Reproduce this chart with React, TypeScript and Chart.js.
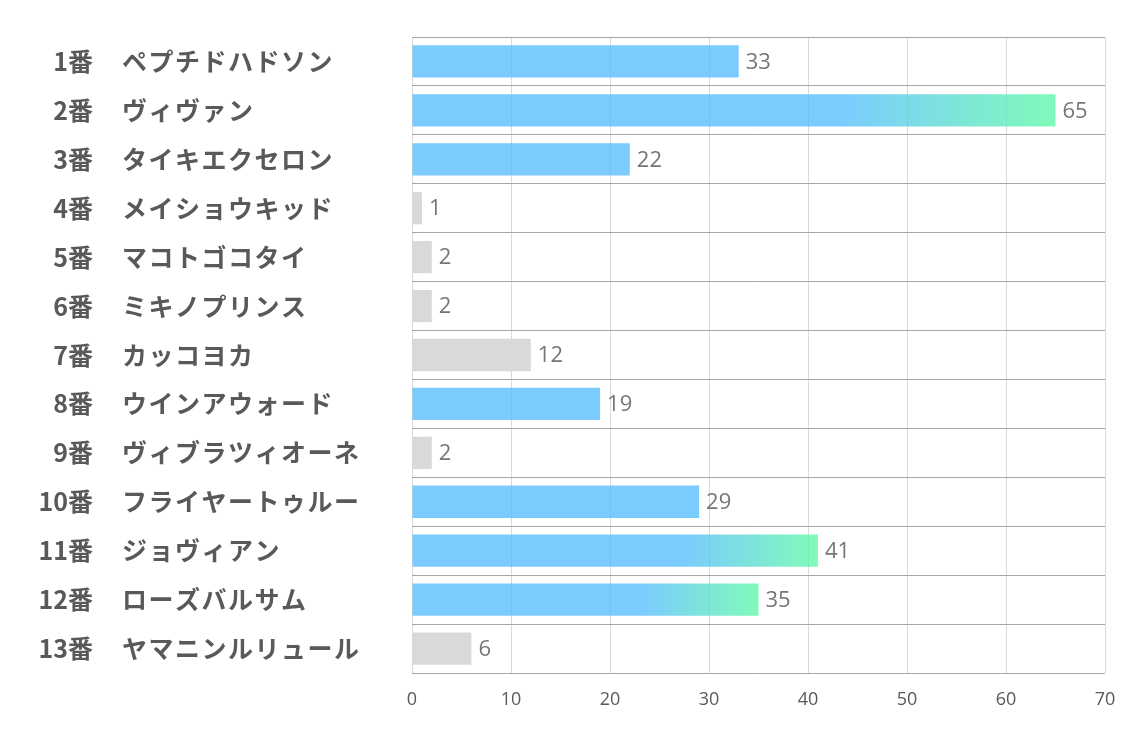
import React, { useEffect, useRef } from "react";
import { Chart, registerables } from "chart.js";

Chart.register(...registerables);

const numbers = ["1番", "2番", "3番", "4番", "5番", "6番", "7番", "8番", "9番", "10番", "11番", "12番", "13番"];
const horses = [
  "ペプチドハドソン",
  "ヴィヴァン",
  "タイキエクセロン",
  "メイショウキッド",
  "マコトゴコタイ",
  "ミキノプリンス",
  "カッコヨカ",
  "ウインアウォード",
  "ヴィブラツィオーネ",
  "フライヤートゥルー",
  "ジョヴィアン",
  "ローズバルサム",
  "ヤマニンルリュール",
];
const values = [33, 65, 22, 1, 2, 2, 12, 19, 2, 29, 41, 35, 6];
// "g" = gradient (top picks), "b" = blue, "n" = grey
const kinds = ["b", "g", "b", "n", "n", "n", "n", "b", "n", "b", "g", "g", "n"];
const xTicks = [0, 10, 20, 30, 40, 50, 60, 70];

const BLUE = "rgba(90,190,255,0.8)";
const GREEN = "rgba(96,249,169,0.8)";
const GREY = "rgba(217,217,217,1)";

const labelPlugin = {
  id: "sideLabels",
  afterDraw(chart: any) {
    const ctx = chart.ctx;
    const yScale = chart.scales.y;
    const meta = chart.getDatasetMeta(0);
    ctx.save();
    ctx.fillStyle = "#595959";
    ctx.textBaseline = "middle";
    ctx.font = "bold 25px 'Noto Sans CJK JP'";
    numbers.forEach((n, i) => {
      const y = yScale.getPixelForValue(i);
      ctx.letterSpacing = "0px";
      ctx.textAlign = "right";
      ctx.fillText(n, 93, y);
      ctx.textAlign = "left";
      ctx.letterSpacing = "1.5px";
      ctx.fillText(horses[i], 122, y);
    });
    ctx.letterSpacing = "0px";
    ctx.font = "22px 'Open Sans'";
    ctx.fillStyle = "#767676";
    ctx.textAlign = "left";
    meta.data.forEach((bar: any, i: number) => {
      ctx.fillText(String(values[i]), bar.x + 7, bar.y + 1);
    });
    ctx.restore();
  },
};

export default function App() {
  const ref = useRef<HTMLCanvasElement>(null);
  useEffect(() => {
    const canvas = ref.current!;
    const chart = new Chart(canvas, {
      type: "bar",
      data: {
        labels: horses,
        datasets: [
          {
            data: values,
            backgroundColor: (c: any) => {
              const i = c.dataIndex;
              const k = kinds[i];
              if (k === "n") return GREY;
              if (k === "b") return BLUE;
              const ch = c.chart;
              const area = ch.chartArea;
              if (!area) return BLUE;
              const xs = ch.scales.x;
              const x0 = xs.getPixelForValue(0);
              const x1 = xs.getPixelForValue(values[i]);
              const g = ch.ctx.createLinearGradient(x0, 0, x1, 0);
              g.addColorStop(0, BLUE);
              g.addColorStop(0.66, BLUE);
              g.addColorStop(1, GREEN);
              return g;
            },
            borderWidth: 0,
            barPercentage: 0.66,
            categoryPercentage: 1,
          },
        ],
      },
      options: {
        indexAxis: "y",
        responsive: false,
        animation: false,
        layout: { padding: { top: 37, right: 29, bottom: 0, left: 0 } },
        plugins: { legend: { display: false }, tooltip: { enabled: false } },
        scales: {
          x: {
            min: 0,
            max: 70,
            afterBuildTicks: (s: any) => {
              s.ticks = xTicks.map((v) => ({ value: v }));
            },
            afterFit: (s: any) => {
              s.height = 64;
            },
            grid: { color: "#d9d9d9", lineWidth: 1, drawTicks: false },
            border: { display: false },
            ticks: {
              padding: 16,
              color: "#595959",
              font: { family: "'Open Sans'", size: 18 },
            },
          },
          y: {
            afterFit: (s: any) => {
              s.width = 412;
            },
            grid: { color: "#a6a6a6", lineWidth: 1, drawTicks: false, offset: true },
            border: { display: false },
            ticks: { display: false },
          },
        },
      },
      plugins: [labelPlugin],
    } as any);
    return () => chart.destroy();
  }, []);
  return (
    <div style={{ position: "fixed", left: 0, top: 0, width: 1134, height: 737, background: "#fff" }}>
      <canvas ref={ref} width={1134} height={737} />
    </div>
  );
}
